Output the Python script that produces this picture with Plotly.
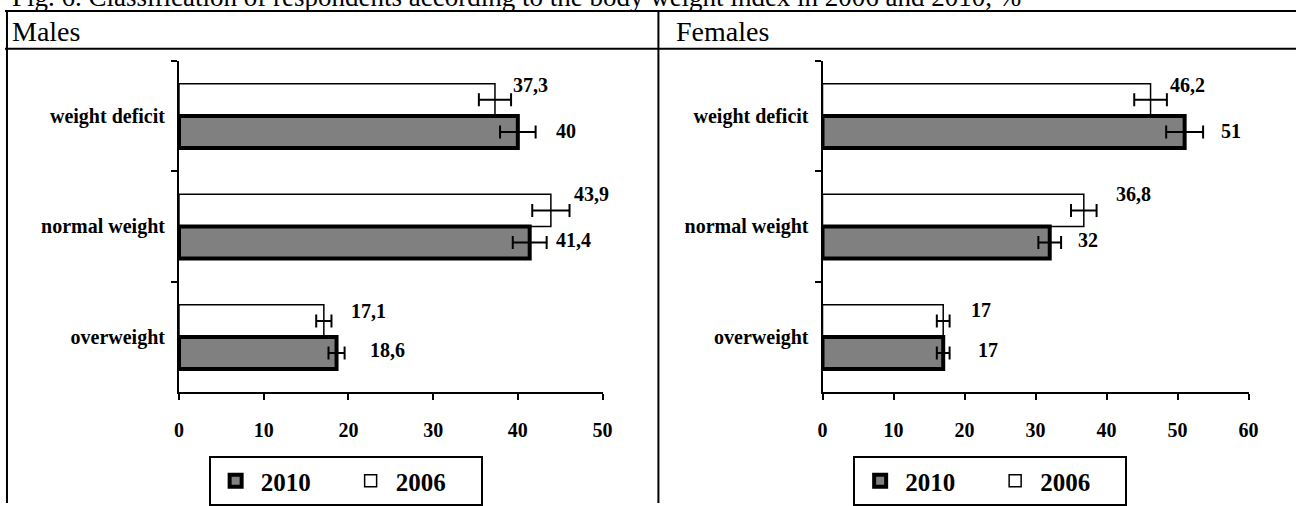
import plotly.graph_objects as go

# ---------------- data ----------------
categories = ["weight deficit", "normal weight", "overweight"]
years = ["2010", "2006"]

males_2010 = [40.0, 41.4, 18.6]
males_2006 = [37.3, 43.9, 17.1]
males_err_2010 = [2.1, 2.0, 0.95]
males_err_2006 = [1.9, 2.2, 0.9]

females_2010 = [51.0, 32.0, 17.0]
females_2006 = [46.2, 36.8, 17.0]
females_err_2010 = [2.6, 1.6, 0.9]
females_err_2006 = [2.3, 1.8, 0.9]

panel_titles = ["Males", "Females"]
x_ranges = [[0, 50], [0, 60]]
fig_title = "Fig. 6. Classification of respondents according to the body weight index in 2006 and 2010, %"

# ---------------- layout helpers (pixels) ----------------
W, H = 1306, 506
FONT = "Liberation Serif, Times New Roman, serif"


def px(x):
    return x / W


def py(y):
    return 1 - y / H


# label pixel shifts (dx, dy) for 2010 / 2006 labels per category
label_shift_males = {"2010": [(48, -15), (44, -14), (51, -13)],
                     "2006": [(36, 31), (41, 32), (45, 26)]}
label_shift_females = {"2010": [(46, -15), (38, -14), (45, -13)],
                       "2006": [(37, 31), (50, 32), (38, 27)]}


def fmt(v):
    s = ("%.1f" % v).rstrip("0").rstrip(".")
    return s.replace(".", ",")


fig = go.Figure()

panels = [
    dict(v2010=males_2010, v2006=males_2006, e2010=males_err_2010, e2006=males_err_2006,
         xa="x", ya="y", legend="legend", shifts=label_shift_males),
    dict(v2010=females_2010, v2006=females_2006, e2010=females_err_2010, e2006=females_err_2006,
         xa="x2", ya="y2", legend="legend2", shifts=label_shift_females),
]

for p in panels:
    # 2006 first so it is on top with reversed y axis
    fig.add_trace(go.Bar(
        y=categories, x=p["v2006"], orientation="h", name=years[1],
        marker=dict(color="white", line=dict(color="black", width=1.5)),
        error_x=dict(type="data", array=p["e2006"], color="black", thickness=2, width=6.5),
        xaxis=p["xa"], yaxis=p["ya"], legend=p["legend"], legendrank=2,
        hoverinfo="skip",
    ))
    fig.add_trace(go.Bar(
        y=categories, x=p["v2010"], orientation="h", name=years[0],
        marker=dict(color="#808080", line=dict(color="black", width=4)),
        error_x=dict(type="data", array=p["e2010"], color="black", thickness=2, width=6.5),
        xaxis=p["xa"], yaxis=p["ya"], legend=p["legend"], legendrank=1,
        hoverinfo="skip",
    ))
    for yr, vals in (("2010", p["v2010"]), ("2006", p["v2006"])):
        for i, (c, v) in enumerate(zip(categories, vals)):
            dx, dy = p["shifts"][yr][i]
            fig.add_annotation(x=v, y=c, xref=p["xa"], yref=p["ya"], text="<b>%s</b>" % fmt(v),
                               showarrow=False, xshift=dx, yshift=dy,
                               font=dict(family=FONT, size=20, color="black"))

axis_common = dict(showline=True, linewidth=2, linecolor="black", showgrid=False, zeroline=False,
                   ticks="outside", ticklen=6, tickwidth=2, tickcolor="black")

Y_TOP, Y_BOT = 61, 394.5
legend_common = dict(xanchor="left", yanchor="top", orientation="h",
                     bordercolor="black", borderwidth=2, bgcolor="white",
                     font=dict(family=FONT, size=25, weight="bold"),
                     entrywidth=80, entrywidthmode="pixels", itemwidth=40,
                     tracegroupgap=0)
fig.update_layout(
    width=W, height=H, margin=dict(l=0, r=0, t=0, b=0, pad=0),
    paper_bgcolor="white", plot_bgcolor="white",
    barmode="group", bargap=0.42, bargroupgap=0,
    font=dict(family=FONT, color="black"),
    showlegend=True,
    xaxis=dict(domain=[px(176), px(604.5)], range=x_ranges[0], dtick=10, anchor="y",
               tickfont=dict(family=FONT, size=20, weight="bold"), ticklabelstandoff=13, **axis_common),
    yaxis=dict(domain=[py(Y_BOT), py(Y_TOP)], range=[2.5, -0.5], anchor="x", tickson="boundaries",
               categoryorder="array", categoryarray=categories,
               tickfont=dict(family=FONT, size=20, weight="bold"), ticklabelstandoff=8, **axis_common),
    xaxis2=dict(domain=[px(827), px(1258)], range=x_ranges[1], dtick=10, anchor="y2",
                tickfont=dict(family=FONT, size=20, weight="bold"), ticklabelstandoff=13, **axis_common),
    yaxis2=dict(domain=[py(Y_BOT), py(Y_TOP)], range=[2.5, -0.5], anchor="x2", tickson="boundaries",
                categoryorder="array", categoryarray=categories,
                tickfont=dict(family=FONT, size=20, weight="bold"), ticklabelstandoff=8, **axis_common),
    legend=dict(x=px(206), y=py(459), **legend_common),
    legend2=dict(x=px(858), y=py(459), **legend_common),
)

# table frame lines
line = dict(color="black", width=2)
shapes = [
    dict(type="line", xref="paper", yref="paper", x0=0, x1=1, y0=py(11), y1=py(11), line=line),
    dict(type="line", xref="paper", yref="paper", x0=0, x1=1, y0=py(49), y1=py(49), line=line),
    dict(type="line", xref="paper", yref="paper", x0=px(2), x1=px(2), y0=py(11), y1=0, line=line),
    dict(type="line", xref="paper", yref="paper", x0=px(661), x1=px(661), y0=py(11), y1=0, line=line),
]
fig.update_layout(shapes=shapes)

# title (cut off at top in the source) and panel headers
fig.add_annotation(x=px(5), y=py(-3), xref="paper", yref="paper", xanchor="left", yanchor="middle",
                   text=fig_title, showarrow=False, font=dict(family=FONT, size=27, color="black"))
for t, xp in zip(panel_titles, (5, 677)):
    fig.add_annotation(x=px(xp), y=py(32), xref="paper", yref="paper", xanchor="left", yanchor="middle",
                       text=t, showarrow=False, font=dict(family=FONT, size=28, color="black"))

fig.write_html("out.html", config={"displayModeBar": False},
               post_script="document.body.style.margin='0';document.body.style.overflow='hidden';")
